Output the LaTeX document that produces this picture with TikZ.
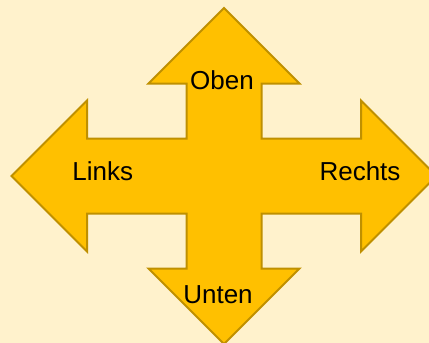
\documentclass[tikz,border=0pt]{standalone}
\usepackage{fontspec}
\setmainfont{Liberation Sans}
\usepackage{tikz}
\definecolor{bgyellow}{HTML}{FFF2CC}
\definecolor{arrowgold}{HTML}{FFC000}
\definecolor{arrowline}{HTML}{BF9000}
\begin{document}
\begin{tikzpicture}[x=1pt,y=1pt]
\tikzstyle{every node}+=[inner sep=0pt]
\tikzstyle{label}=[anchor=base,font=\fontsize{26}{30}\selectfont]
\useasboundingbox (0,0) rectangle (429,-343);
\fill [bgyellow] (0,0) rectangle (429,-343);
\clip (0,0) rectangle (429,-343);
\draw [arrowline,fill=arrowgold,line width=2pt,line join=miter]
  (224,-8) -- (299.5,-83.5) -- (261.5,-83.5) -- (261.5,-138.5)
  -- (361,-138.5) -- (361,-100.5) -- (436.5,-176) -- (361,-251.5) -- (361,-213.5)
  -- (261.5,-213.5) -- (261.5,-268.5) -- (299.5,-268.5) -- (224,-344) -- (148.5,-268.5)
  -- (186.5,-268.5) -- (186.5,-213.5) -- (87,-213.5) -- (87,-251.5) -- (11.5,-176)
  -- (87,-100.5) -- (87,-138.5) -- (186.5,-138.5) -- (186.5,-83.5) -- (148.5,-83.5) -- cycle;
\node [label] (oben) at (222,-89) {Oben};
\node [label] (links) at (102.7,-180.7) {Links};
\node [label] (rechts) at (360,-180.7) {Rechts};
\node [label] (unten) at (218,-303.3) {Unten};
\end{tikzpicture}
\end{document}
